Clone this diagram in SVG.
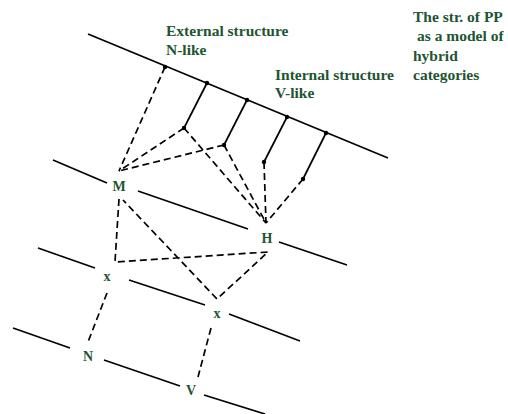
<svg xmlns="http://www.w3.org/2000/svg" width="508" height="414" viewBox="0 0 508 414">
<style>
.s{stroke:#000;stroke-width:1.7;fill:none}
.d{stroke:#000;stroke-width:1.7;fill:none;stroke-dasharray:7 4}
.t{font-family:"Liberation Serif","Times New Roman",serif;font-weight:bold;fill:#1d5532;font-size:15.5px}
.n{font-family:"Liberation Serif","Times New Roman",serif;font-weight:bold;fill:#1d5532;font-size:14px;text-anchor:middle}
</style>
<rect width="508" height="414" fill="#fff"/>
<g id="connectors">
<line class="s" x1="88" y1="34" x2="388" y2="158"/>
<line class="s" x1="207" y1="83" x2="184" y2="128"/>
<line class="s" x1="247" y1="100" x2="224" y2="145"/>
<line class="s" x1="287" y1="117" x2="264" y2="162"/>
<line class="s" x1="326" y1="133" x2="303" y2="179"/>
<line class="s" x1="53" y1="160" x2="107" y2="183"/>
<line class="s" x1="138" y1="191" x2="248" y2="229"/>
<line class="s" x1="279" y1="242" x2="347" y2="265"/>
<line class="s" x1="38" y1="248" x2="95" y2="268"/>
<line class="s" x1="129" y1="280" x2="205" y2="305"/>
<line class="s" x1="229" y1="314" x2="300" y2="341"/>
<line class="s" x1="13" y1="328" x2="70" y2="348"/>
<line class="s" x1="104" y1="360" x2="180" y2="386"/>
<line class="s" x1="204" y1="395" x2="265" y2="414"/>
<line class="d" x1="165" y1="67" x2="119" y2="171"/>
<line class="d" x1="184" y1="128" x2="119" y2="171"/>
<line class="d" x1="224" y1="145" x2="119" y2="171"/>
<line class="d" x1="184" y1="128" x2="266" y2="223"/>
<line class="d" x1="224" y1="145" x2="266" y2="223"/>
<line class="d" x1="264" y1="162" x2="266" y2="223"/>
<line class="d" x1="303" y1="179" x2="266" y2="223"/>
<polyline class="d" points="119,199 115,262 268,252 217,299 123,200"/>
<line class="d" x1="107" y1="293" x2="88" y2="342"/>
<line class="d" x1="211" y1="328" x2="198" y2="377"/>
<g fill="#000">
<circle cx="165" cy="67" r="2.2"/>
<circle cx="207" cy="83" r="2.2"/>
<circle cx="247" cy="100" r="2.2"/>
<circle cx="287" cy="117" r="2.2"/>
<circle cx="326" cy="133" r="2.2"/>
<circle cx="184" cy="128" r="2.2"/>
<circle cx="224" cy="145" r="2.2"/>
<circle cx="264" cy="162" r="2.2"/>
<circle cx="303" cy="179" r="2.2"/>
</g>
</g>
<g id="node-M"><text class="n" x="119" y="191">M</text></g>
<g id="node-H"><text class="n" x="267" y="243">H</text></g>
<g id="node-x1"><text class="n" x="107" y="281">x</text></g>
<g id="node-x2"><text class="n" x="217" y="318">x</text></g>
<g id="node-N"><text class="n" x="88" y="361">N</text></g>
<g id="node-V"><text class="n" x="191" y="395">V</text></g>
<g id="label-external"><text class="t" x="166" y="36">External structure</text><text class="t" x="166" y="55">N-like</text></g>
<g id="label-internal"><text class="t" x="275" y="80">Internal structure</text><text class="t" x="275" y="98">V-like</text></g>
<g id="label-title"><text class="t" x="413" y="21.5">The str. of PP</text><text class="t" x="417" y="41">as a model of</text><text class="t" x="413" y="60.5">hybrid</text><text class="t" x="413" y="80">categories</text></g>
</svg>
